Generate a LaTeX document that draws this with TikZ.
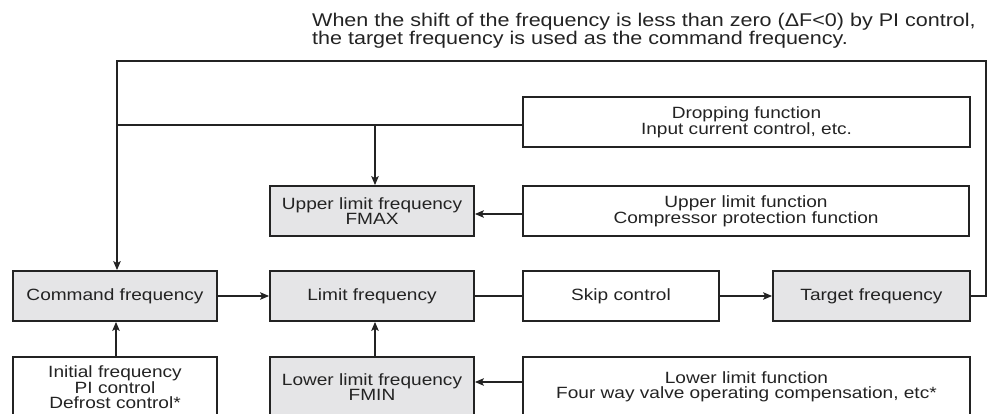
\documentclass[tikz,border=0pt]{standalone}
\usepackage{fontspec}
\newfontfamily\labfont{Liberation Sans}[FakeStretch=1.17]
\usetikzlibrary{arrows.meta}
\definecolor{boxgray}{RGB}{229,229,231}
\definecolor{ink}{RGB}{35,35,35}
\begin{document}
\begin{tikzpicture}[x=1pt,y=-1pt,
  box/.style={draw=ink,line width=1.8pt,minimum width=#1,minimum height=50pt,
    inner sep=0pt,align=center,text=ink,font=\labfont\fontsize{16.3}{15}\selectfont},
  conn/.style={draw=ink,line width=1.3pt},
  arr/.style={conn,-{Stealth[length=9pt,width=7.5pt,inset=2pt]}}]
\useasboundingbox (0,0) rectangle (988,414);
\clip (0,0) rectangle (988,414);
% note
\node[anchor=north west,align=left,inner sep=0pt,text=ink,
  font=\labfont\fontsize{18.4}{15.7}\selectfont] (note) at (312,12.6)
  {When the shift of the frequency is less than zero (ΔF<0) by PI control,\\the target frequency is used as the command frequency.};
% boxes
\node[box=204pt,fill=boxgray] (cmd) at (115,296) {Command frequency};
\node[box=204pt,fill=boxgray] (lim) at (372,296) {Limit frequency};
\node[box=196pt] (skip) at (621,296) {Skip control};
\node[box=197pt,fill=boxgray] (tgt) at (871.5,296) {Target frequency};
\node[box=447pt] (drop) at (746.5,122) {Dropping function\\Input current control, etc.};
\node[box=446pt] (upfn) at (746,211) {Upper limit function\\Compressor protection function};
\node[box=204pt,fill=boxgray] (upf) at (372,211) {Upper limit frequency\\FMAX};
\node[box=204pt,minimum height=60pt] (init) at (115,387) {Initial frequency\\PI control\\Defrost control*};
\node[box=204pt,fill=boxgray,minimum height=60pt] (lof) at (372,387) {Lower limit frequency\\FMIN};
\node[box=447pt,minimum height=60pt] (lofn) at (746.5,387) {Lower limit function\\Four way valve operating compensation, etc*};
% helper coordinates
\coordinate (tr) at (986,61);
\coordinate (tl) at (117,61);
\coordinate (dj) at (117,125);
\coordinate (da) at (375,125);
\coordinate (mx) at (375,0);
\coordinate (ix) at (116,0);
\coordinate (uy) at (0,214);
\coordinate (ly) at (0,382);
% connectors
\draw[arr] (tgt.east) -| (tr) -- (tl) -- (tl |- cmd.north);
\draw[conn] (drop.west |- dj) -- (dj);
\draw[arr] (da) -- (da |- upf.north);
\draw[arr] (upfn.west |- uy) -- (upf.east |- uy);
\draw[arr] (cmd) -- (lim);
\draw[conn] (lim) -- (skip);
\draw[arr] (skip) -- (tgt);
\draw[arr] (init.north -| ix) -- (cmd.south -| ix);
\draw[arr] (lof.north -| mx) -- (lim.south -| mx);
\draw[arr] (lofn.west |- ly) -- (lof.east |- ly);
\end{tikzpicture}
\end{document}
